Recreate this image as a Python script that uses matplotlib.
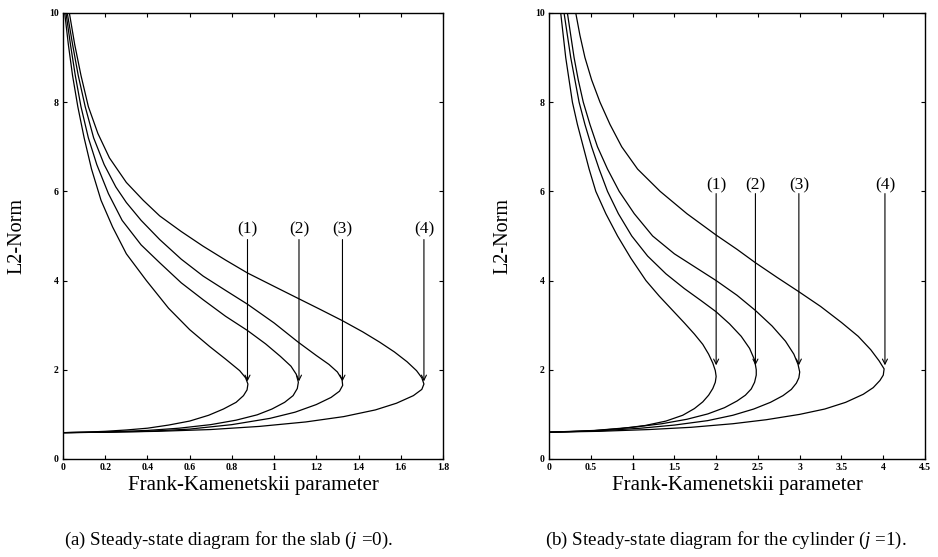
import matplotlib
matplotlib.use("Agg")
import matplotlib.pyplot as plt
from matplotlib.ticker import FuncFormatter

plt.rcParams['font.family'] = ['Liberation Serif', 'DejaVu Serif']
plt.rcParams['mathtext.fontset'] = 'custom'
plt.rcParams['mathtext.it'] = 'Liberation Serif:italic'
plt.rcParams['mathtext.rm'] = 'Liberation Serif'

# slab (j = 0): points, upper branch first, then lower branch
slab_x = [
    [0.008, 0.025, 0.045, 0.07, 0.1, 0.135, 0.18, 0.235, 0.3, 0.395, 0.5, 0.6, 0.695, 0.77, 0.837,
     0.865, 0.876, 0.872, 0.855, 0.82, 0.76, 0.69, 0.6, 0.5, 0.4, 0.3, 0.2, 0.1, 0.0],
    [0.014, 0.035, 0.058, 0.085, 0.12, 0.16, 0.215, 0.28, 0.37, 0.458, 0.56, 0.664, 0.77, 0.874, 0.96,
     1.03, 1.08, 1.105, 1.115, 1.11, 1.09, 1.05, 0.99, 0.92, 0.82, 0.7, 0.55, 0.4, 0.2, 0.0],
    [0.02, 0.045, 0.072, 0.105, 0.145, 0.195, 0.25, 0.30, 0.37, 0.458, 0.56, 0.664, 0.77, 0.874, 1.0,
     1.114, 1.2, 1.26, 1.3, 1.322, 1.325, 1.31, 1.27, 1.2, 1.1, 0.98, 0.8, 0.6, 0.4, 0.2, 0.0],
    [0.03, 0.055, 0.085, 0.12, 0.165, 0.22, 0.30, 0.38, 0.458, 0.56, 0.664, 0.77, 0.874, 1.0, 1.114,
     1.22, 1.324, 1.42, 1.5, 1.57, 1.63, 1.675, 1.7, 1.71, 1.7, 1.66, 1.58, 1.48, 1.33, 1.15, 0.93,
     0.7, 0.45, 0.2, 0.0],
]
slab_y = [
    [10.0, 9.3, 8.6, 7.9, 7.2, 6.5, 5.8, 5.2, 4.6, 4.0, 3.38, 2.9, 2.52, 2.24, 1.98,
     1.82, 1.68, 1.55, 1.42, 1.27, 1.12, 0.98, 0.85, 0.76, 0.69, 0.65, 0.62, 0.60, 0.59],
    [10.0, 9.3, 8.6, 7.9, 7.2, 6.6, 5.95, 5.35, 4.8, 4.4, 3.95, 3.57, 3.2, 2.88, 2.58,
     2.3, 2.08, 1.9, 1.72, 1.58, 1.42, 1.27, 1.12, 0.99, 0.87, 0.77, 0.69, 0.64, 0.605, 0.59],
    [10.0, 9.3, 8.6, 7.9, 7.2, 6.6, 6.1, 5.75, 5.35, 4.92, 4.48, 4.1, 3.78, 3.47, 3.05,
     2.62, 2.32, 2.12, 1.95, 1.78, 1.65, 1.52, 1.38, 1.22, 1.05, 0.91, 0.77, 0.67, 0.62, 0.60, 0.59],
    [10.0, 9.3, 8.6, 7.9, 7.3, 6.75, 6.2, 5.8, 5.45, 5.1, 4.77, 4.46, 4.17, 3.87, 3.6,
     3.35, 3.1, 2.85, 2.62, 2.4, 2.18, 1.98, 1.82, 1.68, 1.56, 1.42, 1.25, 1.1, 0.95, 0.83, 0.73,
     0.66, 0.62, 0.60, 0.59],
]
slab_arrow_x = [0.874, 1.118, 1.324, 1.71]

# cylinder (j = 1)
cyl_x = [
    [0.14, 0.17, 0.2, 0.24, 0.28, 0.34, 0.41, 0.48, 0.56, 0.68, 0.82, 0.98, 1.16, 1.32, 1.48,
     1.62, 1.74, 1.84, 1.91, 1.96, 1.99, 2.0, 1.99, 1.96, 1.91, 1.84, 1.74, 1.6, 1.4, 1.15, 0.85,
     0.5, 0.2, 0.0],
    [0.18, 0.22, 0.26, 0.31, 0.36, 0.43, 0.51, 0.6, 0.7, 0.83, 0.99, 1.18, 1.4, 1.62, 1.82,
     2.0, 2.16, 2.3, 2.4, 2.46, 2.48, 2.48, 2.46, 2.42, 2.35, 2.25, 2.1, 1.9, 1.65, 1.35, 1.0,
     0.55, 0.0],
    [0.22, 0.26, 0.3, 0.35, 0.41, 0.49, 0.58, 0.7, 0.84, 1.02, 1.24, 1.5, 1.75, 2.0, 2.25,
     2.47, 2.67, 2.83, 2.93, 2.98, 3.0, 2.99, 2.96, 2.9, 2.8, 2.65, 2.45, 2.2, 1.9, 1.5, 1.1,
     0.6, 0.0],
    [0.32, 0.37, 0.43, 0.51, 0.61, 0.73, 0.87, 1.06, 1.33, 1.65, 2.0, 2.25, 2.47, 2.73, 2.99,
     3.25, 3.5, 3.7, 3.85, 3.95, 4.01, 4.0, 3.96, 3.88, 3.76, 3.55, 3.3, 3.0, 2.6, 2.2, 1.7,
     1.2, 0.6, 0.0],
]
cyl_y = [
    [10.0, 9.5, 9.0, 8.5, 8.0, 7.5, 7.0, 6.5, 6.0, 5.5, 5.0, 4.5, 4.0, 3.65, 3.33,
     3.05, 2.8, 2.57, 2.35, 2.15, 1.98, 1.85, 1.72, 1.58, 1.43, 1.28, 1.13, 0.98, 0.85, 0.75, 0.68,
     0.63, 0.61, 0.60],
    [10.0, 9.5, 9.0, 8.5, 8.0, 7.5, 7.0, 6.5, 6.0, 5.5, 5.0, 4.55, 4.15, 3.82, 3.55,
     3.3, 3.03, 2.75, 2.48, 2.22, 2.0, 1.88, 1.72, 1.57, 1.43, 1.3, 1.15, 1.01, 0.89, 0.79, 0.71,
     0.64, 0.60],
    [10.0, 9.5, 9.0, 8.5, 8.0, 7.5, 7.0, 6.5, 6.0, 5.5, 5.0, 4.6, 4.3, 4.0, 3.67,
     3.33, 2.98, 2.64, 2.35, 2.12, 1.95, 1.82, 1.7, 1.56, 1.42, 1.27, 1.12, 0.98, 0.86, 0.76, 0.69,
     0.63, 0.60],
    [10.0, 9.5, 9.0, 8.5, 8.0, 7.5, 7.0, 6.5, 6.0, 5.5, 5.02, 4.7, 4.4, 4.07, 3.75,
     3.42, 3.06, 2.75, 2.45, 2.2, 2.02, 1.88, 1.76, 1.6, 1.45, 1.27, 1.12, 1.0, 0.88, 0.79, 0.71,
     0.66, 0.62, 0.60],
]
cyl_arrow_x = [2.0, 2.47, 2.99, 4.02]

labels = ['(1)', '(2)', '(3)', '(4)']
xlabel = 'Frank-Kamenetskii parameter'
ylabel = 'L2-Norm'

fig = plt.figure(figsize=(9.38, 5.57), dpi=100)
ax1 = fig.add_axes([0.0672, 0.176, 0.405, 0.8007])
ax2 = fig.add_axes([0.5853, 0.176, 0.4009, 0.8007])


def draw_panel(ax, xs, ys, ax_x, lab_y, top_y, tip_y, xmax, xticks):
    for cx, cy in zip(xs, ys):
        ax.plot(cx, cy, color='black', lw=0.9)
    for x, lab in zip(ax_x, labels):
        ax.annotate('', xy=(x, tip_y), xytext=(x, top_y),
                    arrowprops=dict(arrowstyle='->', color='black', lw=0.8,
                                    mutation_scale=9, shrinkA=0, shrinkB=0))
        ax.text(x, lab_y, lab, ha='center', va='center', fontsize=12.5)
    ax.set_xlim(0, xmax)
    ax.set_ylim(0, 10)
    ax.set_xticks(xticks)
    ax.set_yticks([0, 2, 4, 6, 8, 10])
    ax.xaxis.set_major_formatter(FuncFormatter(lambda v, p: '%g' % v))
    ax.tick_params(direction='in', top=True, right=True, length=3, width=0.8,
                   labelsize=7, pad=3)
    for t in ax.get_xticklabels() + ax.get_yticklabels():
        t.set_fontweight('bold')
    for s in ax.spines.values():
        s.set_linewidth(1.0)
    ax.set_xlabel(xlabel, fontsize=15, labelpad=3)
    ax.set_ylabel(ylabel, fontsize=14.5, labelpad=16)


draw_panel(ax1, slab_x, slab_y, slab_arrow_x, 5.15, 4.92, 1.74, 1.8,
           [0, 0.2, 0.4, 0.6, 0.8, 1.0, 1.2, 1.4, 1.6, 1.8])
draw_panel(ax2, cyl_x, cyl_y, cyl_arrow_x, 6.14, 5.95, 2.1, 4.5,
           [0, 0.5, 1, 1.5, 2, 2.5, 3, 3.5, 4, 4.5])

fig.text(0.244, 0.03, r'(a) Steady-state diagram for the slab ($j$ =0).',
         ha='center', va='center', fontsize=13.7)
fig.text(0.774, 0.03, r'(b) Steady-state diagram for the cylinder ($j$ =1).',
         ha='center', va='center', fontsize=13.7)

fig.savefig('out.png', dpi=100)
